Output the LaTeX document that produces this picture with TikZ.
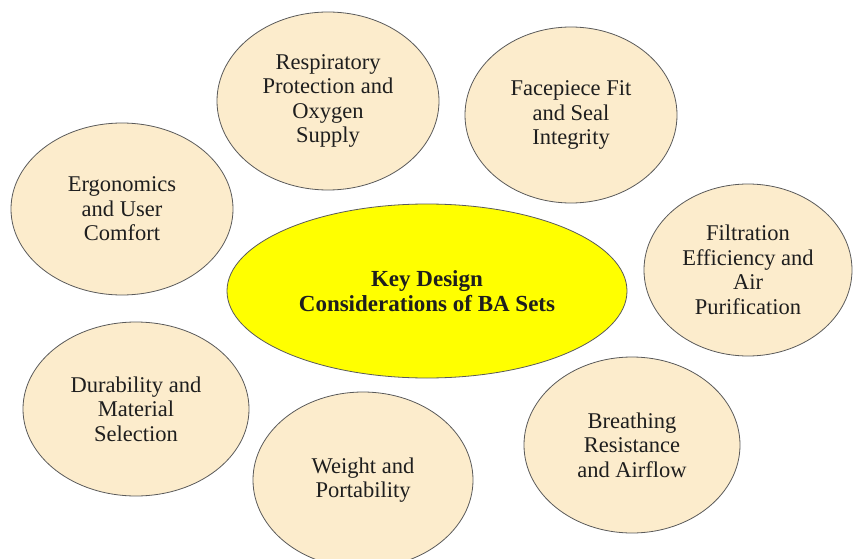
\documentclass[tikz,border=0pt]{standalone}
\usepackage{fontspec}
\setmainfont{Liberation Serif}
\usetikzlibrary{shapes.geometric}
\definecolor{topicfill}{RGB}{252,236,204}
\definecolor{rimgray}{RGB}{90,90,90}
\definecolor{inkdark}{RGB}{30,30,30}
\definecolor{hubfill}{RGB}{255,255,0}
\begin{document}
\begin{tikzpicture}[x=1pt,y=-1pt,
  bubble/.style={ellipse, draw=rimgray, line width=0.8pt, fill=topicfill,
    inner sep=0pt, align=center, text=inkdark,
    font=\fontsize{22.5}{24.5}\selectfont},
  hub/.style={ellipse, draw=rimgray, line width=0.8pt, fill=hubfill,
    inner sep=0pt, align=center, text=inkdark,
    font=\fontsize{23}{25}\selectfont\bfseries,
    minimum width=400pt, minimum height=174pt}]
  \useasboundingbox[fill=white] (0,0) rectangle (854,559);
  \begin{scope}
    \clip (0,0) rectangle (854,559);
    \node[hub] (hub) at (427,291) {Key Design\\Considerations of BA Sets};
    \node[bubble, minimum width=222pt, minimum height=178pt] (resp) at (328,101)
      {Respiratory\\Protection and\\Oxygen\\Supply};
    \node[bubble, minimum width=212pt, minimum height=176pt] (face) at (571,115)
      {Facepiece Fit\\and Seal\\Integrity};
    \node[bubble, minimum width=222pt, minimum height=172pt] (ergo) at (122,209)
      {Ergonomics\\and User\\Comfort};
    \node[bubble, minimum width=208pt, minimum height=172pt] (filt) at (748,270)
      {Filtration\\Efficiency and\\Air\\Purification};
    \node[bubble, minimum width=226pt, minimum height=174pt] (dura) at (136,409)
      {Durability and\\Material\\Selection};
    \node[bubble, minimum width=220pt, minimum height=176pt] (weig) at (363,480)
      {Weight and\\Portability};
    \node[bubble, minimum width=216pt, minimum height=176pt] (brea) at (632,445)
      {Breathing\\Resistance\\and Airflow};
  \end{scope}
\end{tikzpicture}
\end{document}
